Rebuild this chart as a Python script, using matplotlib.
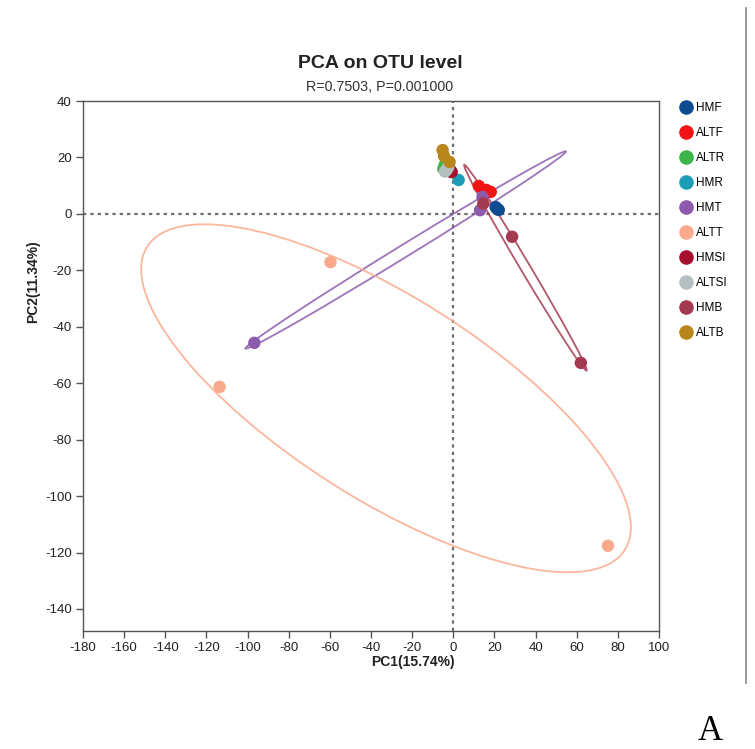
import numpy as np
import matplotlib
matplotlib.use('Agg')
import matplotlib.pyplot as plt
from matplotlib.patches import Ellipse
from matplotlib.lines import Line2D

plt.rcParams['font.family'] = ['Liberation Sans', 'DejaVu Sans']
plt.rcParams['axes.unicode_minus'] = False

# ---- data ----
groups = ['HMF', 'ALTF', 'ALTR', 'HMR', 'HMT', 'ALTT', 'HMSI', 'ALTSI', 'HMB', 'ALTB']
colors = ['#0E4C92', '#F01414', '#3DB54A', '#1B9DB8', '#8C5BAE', '#FBA98C',
          '#A5102F', '#B4BFC1', '#A33A50', '#B9861C']

hmf_pc1 = [20.6, 22.1, 21.0]
hmf_pc2 = [2.4, 1.4, 2.0]
altf_pc1 = [12.4, 18.2, 16.0]
altf_pc2 = [9.9, 7.8, 8.5]
altr_pc1 = [-4.2, -3.5, -4.8]
altr_pc2 = [17.3, 16.5, 16.0]
hmr_pc1 = [2.6, -2.5, -1.0]
hmr_pc2 = [12.0, 16.0, 15.0]
hmt_pc1 = [-96.7, 14.2, 13.0]
hmt_pc2 = [-45.7, 6.0, 1.3]
altt_pc1 = [-59.7, -113.6, 75.2]
altt_pc2 = [-17.1, -61.3, -117.6]
hmsi_pc1 = [-0.8, -1.5, -2.0]
hmsi_pc2 = [14.8, 15.5, 16.0]
altsi_pc1 = [-3.2, -4.0, -2.5]
altsi_pc2 = [15.6, 15.0, 16.5]
hmb_pc1 = [28.6, 62.0, 14.6]
hmb_pc2 = [-8.1, -52.8, 3.7]
altb_pc1 = [-5.2, -4.5, -1.8]
altb_pc2 = [22.6, 20.5, 18.4]

pc1 = [hmf_pc1, altf_pc1, altr_pc1, hmr_pc1, hmt_pc1, altt_pc1, hmsi_pc1, altsi_pc1, hmb_pc1, altb_pc1]
pc2 = [hmf_pc2, altf_pc2, altr_pc2, hmr_pc2, hmt_pc2, altt_pc2, hmsi_pc2, altsi_pc2, hmb_pc2, altb_pc2]

title = 'PCA on OTU level'
subtitle = 'R=0.7503, P=0.001000'
xlabel = 'PC1(15.74%)'
ylabel = 'PC2(11.34%)'
xticks = list(range(-180, 101, 20))
yticks = list(range(-140, 41, 20))

# ---- figure ----
W, H = 755, 749
fig = plt.figure(figsize=(W / 100, H / 100), dpi=100)
def fx(x): return x / W
def fy(y): return 1 - y / H

ax = fig.add_axes([fx(83), fy(631), fx(659) - fx(83), fy(101) - fy(631)])
ax.set_xlim(-180, 100)
ax.set_ylim(-147.8, 40)

ax.axhline(0, color='#6E6E6E', lw=1.6, ls=(0, (1.5, 1.8)), zorder=1)
ax.axvline(0, color='#6E6E6E', lw=1.6, ls=(0, (1.5, 1.8)), zorder=1)

k = np.sqrt(5.991) / 2
for g, c, xs, ys in zip(groups, colors, pc1, pc2):
    x = np.array(xs); y = np.array(ys)
    cov = np.cov(x, y)
    vals, vecs = np.linalg.eigh(cov)
    order = vals.argsort()[::-1]
    vals, vecs = vals[order], vecs[:, order]
    ang = np.degrees(np.arctan2(vecs[1, 0], vecs[0, 0]))
    e = Ellipse((x.mean(), y.mean()), width=2 * k * np.sqrt(vals[0]),
                height=2 * k * np.sqrt(max(vals[1], 0)), angle=ang,
                fill=False, edgecolor=c, lw=1.3, alpha=0.85, zorder=2)
    ax.add_patch(e)

for g, c, xs, ys in zip(groups, colors, pc1, pc2):
    ax.scatter(xs, ys, s=80, color=c, edgecolors='none', zorder=3)

for s in ax.spines.values():
    s.set_color('#555555')
    s.set_linewidth(1.0)
ax.set_xticks(xticks)
ax.set_yticks(yticks)
ax.tick_params(direction='out', length=5, width=1, color='#555555',
               labelsize=9.5, labelcolor='#222222', pad=3)

fig.text(fx(380), fy(64), title, ha='center', va='center', fontsize=14, fontweight='bold', color='#222222')
fig.text(fx(380), fy(87), subtitle, ha='center', va='center', fontsize=10.3, color='#333333')
fig.text(fx(413), fy(662), xlabel, ha='center', va='center', fontsize=10, fontweight='bold', color='#222222')
fig.text(fx(33), fy(282), ylabel, ha='center', va='center', rotation=90, fontsize=10, fontweight='bold', color='#222222')

handles = [Line2D([], [], marker='o', ls='none', markersize=10.5, markerfacecolor=c,
                  markeredgecolor='none', label=g) for g, c in zip(groups, colors)]
fig.legend(handles=handles, loc='upper left', bbox_to_anchor=(fx(681), fy(102)),
           frameon=False, fontsize=8.5, handlelength=0.9, handletextpad=0.4,
           labelspacing=1.1, borderaxespad=0, borderpad=0)

fig.add_artist(Line2D([fx(746), fx(746)], [fy(8), fy(683)], color='#888888', lw=1.2))
fig.text(fx(710), fy(732), 'A', ha='center', va='center', fontsize=25,
         family=['Liberation Serif', 'DejaVu Serif'], color='black')

fig.savefig('out.png', dpi=100)
